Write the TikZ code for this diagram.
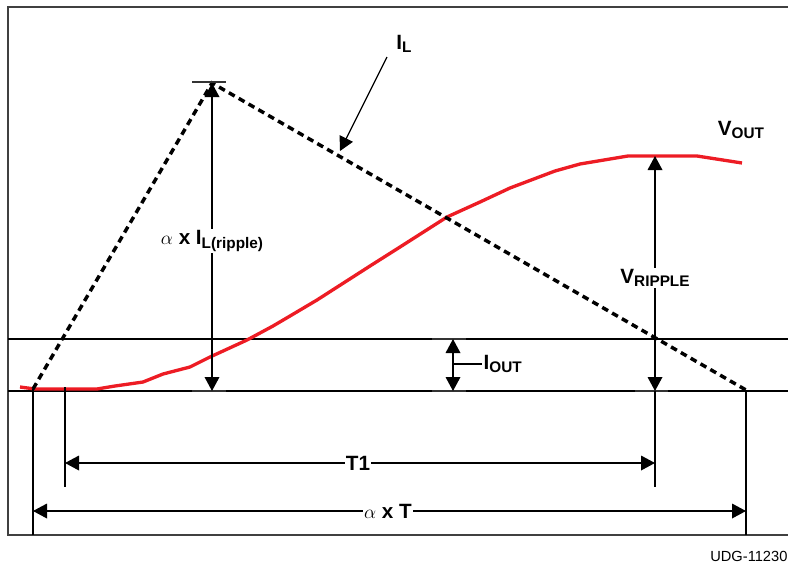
\documentclass[tikz,border=0pt]{standalone}
\usepackage{fontspec}
\setmainfont{Liberation Sans}
\usetikzlibrary{arrows.meta}
\definecolor{voutred}{RGB}{237,28,36}
\newcommand{\lsub}[1]{\raisebox{-2.5pt}{\fontsize{11.5}{13}\selectfont #1}}

\begin{document}
\begin{tikzpicture}[x=0.75pt, y=-0.75pt, >={Triangle[length=10.5pt,width=11pt]},
  lbl/.style={font=\fontsize{15.5}{17}\selectfont\bfseries, inner sep=1pt},
  dim/.style={<->, line width=1pt},
  tick/.style={line width=1.5pt, black!80},
  level/.style={line width=0.8pt},
  ext/.style={line width=1pt}]
\useasboundingbox (0,0) rectangle (788,565);

% frame and levels
\draw[line width=1.2pt, black!75] (788,7) -- (8,7) -- (8,535) -- (788,535);
\draw[level] (8,339) -- (788,339);
\draw[level] (8,391) -- (788,391);

\coordinate (ilstart) at (33,389);
\coordinate (ilpeak) at (212,83);
\coordinate (ilend) at (746,390);
\coordinate (ilbase) at (212,391);
\coordinate (vtop) at (655,156);
\coordinate (vbase) at (655,391);
\coordinate (iotop) at (453,339);
\coordinate (iobase) at (453,391);
\coordinate (iomid) at (453,364);

% output voltage
\draw[voutred, line width=2.5pt, line join=round] plot coordinates {(20,387) (35,389) (97,389) (115,386) (143,382)
  (163,374) (190,367) (210,357) (247,340) (273,326) (290,316) (317,300) (370,266) (400,247) (447,217)
  (480,202) (510,188) (555,171) (580,164) (628,156) (697,156) (742,163)};

% inductor current
\draw[line width=2.6pt, dash pattern=on 5pt off 3.5pt] (ilstart) -- (ilpeak) -- (ilend);

% ticks
\draw[tick] (192,82) -- (226,82);
\draw[tick] (192,391) -- (226,391);
\draw[tick] (432,339) -- (466,339);
\draw[tick] (432,391) -- (466,391);
\draw[tick] (635,391) -- (668,391);

% extension lines
\draw[ext] (ilstart) -- (33,535);
\draw[ext] (65,387) -- (65,487);
\draw[ext] (vbase) -- (655,487);
\draw[ext] (ilend) -- (746,535);

% dimensions
\draw[dim] (ilpeak) -- (ilbase);
\draw[dim] (vtop) -- (vbase);
\draw[dim] (iotop) -- (iobase);
\draw[dim] (65,463) -- (655,463);
\draw[dim] (33,511) -- (746,511);

% labels
\node[lbl, fill=white] (ripple) at (212,241) {$\alpha$ x I\lsub{L(ripple)}};
\node[lbl, fill=white] (vrip) at (655,278) {V\lsub{RIPPLE}};
\node[lbl, fill=white] (t1) at (358,463) {T1};
\node[lbl, fill=white] (aT) at (388,511) {$\alpha$ x T};
\node[lbl, anchor=west] (iout) at (482,364) {I\lsub{OUT}};
\node[lbl] (vout) at (741,130) {V\lsub{OUT}};
\node[lbl] (il) at (404,44) {I\lsub{L}};
\node[font=\fontsize{11}{13}\selectfont, anchor=west, inner sep=0pt] (udg) at (710,556) {UDG-11230};

\draw[line width=0.8pt] (iomid) -- (iout.west);
\draw[->, line width=0.9pt] (387,57) -- (340,151);
\end{tikzpicture}
\end{document}
